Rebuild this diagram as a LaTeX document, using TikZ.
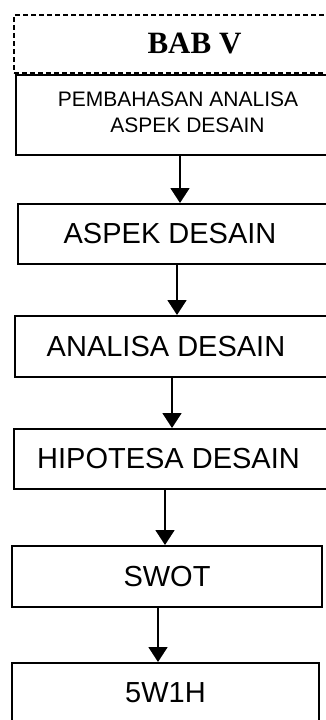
\documentclass[tikz,border=0pt]{standalone}
\usepackage{fontspec}
\setmainfont{Liberation Sans}
\newfontfamily\timesfont{Liberation Serif}
\usetikzlibrary{arrows.meta}
\begin{document}
\begin{tikzpicture}[x=1pt,y=-1pt,
  box/.style={draw=black, line width=1.5pt, rectangle, inner sep=0pt, outer sep=0pt,
    font=\fontsize{29}{34}\selectfont},
  arr/.style={line width=1.8pt, -{Triangle[length=15pt,width=19pt]}, shorten >=1pt}]
\useasboundingbox (0,0) rectangle (326,720);
\clip (0,0) rectangle (326,720);
\node[box, line width=1.8pt, dash pattern=on 5pt off 3pt, minimum width=326pt, minimum height=58pt,
  font=\timesfont\bfseries\fontsize{31}{36}\selectfont] (bab) at (177,44) {\hspace*{35pt}BAB V};
\node[box, minimum width=324pt, minimum height=80pt, align=center, text depth=6pt,
  font=\fontsize{21}{26}\selectfont] (pem) at (178,115) {PEMBAHASAN ANALISA\\\hspace*{19pt}ASPEK DESAIN};
\node[box, minimum width=322pt, minimum height=60pt] (asp) at (179,234) {ASPEK DESAIN\hspace*{18pt}};
\node[box, minimum width=325pt, minimum height=61pt] (ana) at (177.5,346.5) {ANALISA DESAIN\hspace*{23pt}};
\node[box, minimum width=326pt, minimum height=60pt] (hip) at (177,459) {HIPOTESA DESAIN\hspace*{17pt}};
\node[box, minimum width=310pt, minimum height=61pt] (swot) at (167,576.5) {SWOT};
\node[box, minimum width=307pt, minimum height=59pt] (w1h) at (165.5,692.5) {5W1H};
\draw[arr] ([xshift=164pt]pem.south west) -- ([xshift=162pt]asp.north west);
\draw[arr] ([xshift=159pt]asp.south west) -- ([xshift=162pt]ana.north west);
\draw[arr] ([xshift=157pt]ana.south west) -- ([xshift=158pt]hip.north west);
\draw[arr] ([xshift=151pt]hip.south west) -- ([xshift=153pt]swot.north west);
\draw[arr] ([xshift=146pt]swot.south west) -- ([xshift=146pt]w1h.north west);
\end{tikzpicture}
\end{document}
